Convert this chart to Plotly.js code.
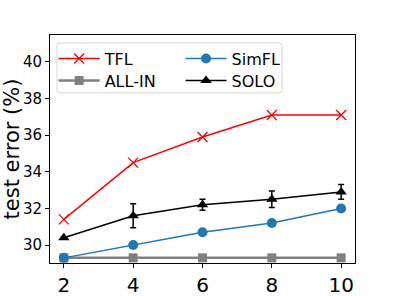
<!DOCTYPE html>
<html><head><meta charset="utf-8">
<script src="https://cdn.plot.ly/plotly-3.0.1.min.js"></script>
<style>body{margin:0;padding:0;background:#fff}#chart{width:394px;height:296px}</style>
</head><body><div id="chart"></div>
<script>
const xVals = [2, 4, 6, 8, 10];
const tfl = [31.4, 34.5, 35.9, 37.1, 37.1];
const allIn = [29.3, 29.3, 29.3, 29.3, 29.3];
const simfl = [29.3, 30.0, 30.7, 31.2, 32.0];
const simflErr = [0.05, 0.05, 0.05, 0.05, 0.05];
const solo = [30.4, 31.6, 32.2, 32.5, 32.9];
const soloErr = [0.05, 0.65, 0.3, 0.45, 0.4];
const xTicks = [2, 4, 6, 8, 10];
const yTicks = [30, 32, 34, 36, 38, 40];

const traces = [
  {x: xVals, y: tfl, name: 'TFL', mode: 'lines+markers', legend: 'legend',
   line: {color: '#ff0000', width: 1.5},
   marker: {symbol: 'x-thin', size: 10, line: {color: '#ff0000', width: 1.3}, color: '#ff0000'}},
  {x: xVals, y: allIn, name: 'ALL-IN', mode: 'lines+markers', legend: 'legend3',
   line: {color: '#808080', width: 2.5},
   marker: {symbol: 'square', size: 9, color: '#808080'}},
  {x: xVals, y: simfl, name: 'SimFL', mode: 'lines+markers', legend: 'legend2',
   error_y: {type: 'data', array: simflErr, color: '#1f77b4', thickness: 1.5, width: 3},
   line: {color: '#1f77b4', width: 1.5},
   marker: {symbol: 'circle', size: 10, color: '#1f77b4'}},
  {x: xVals, y: solo, name: 'SOLO', mode: 'lines+markers', legend: 'legend4',
   error_y: {type: 'data', array: soloErr, color: '#000000', thickness: 1.5, width: 3},
   line: {color: '#000000', width: 1.5},
   marker: {symbol: 'triangle-up', size: 10, color: '#000000'}}
];

// legend frame (paper coords of the plot area)
const bx0 = 0.023, bx1 = 0.761, by0 = 0.746, by1 = 0.965, rx = 0.01, ry = 0.013;
const framePath = `M${bx0+rx},${by0} L${bx1-rx},${by0} Q${bx1},${by0} ${bx1},${by0+ry} L${bx1},${by1-ry} Q${bx1},${by1} ${bx1-rx},${by1} L${bx0+rx},${by1} Q${bx0},${by1} ${bx0},${by1-ry} L${bx0},${by0+ry} Q${bx0},${by0} ${bx0+rx},${by0} Z`;

const legendCommon = {orientation: 'v', xanchor: 'left', yanchor: 'top',
  font: {size: 16, family: 'DejaVu Sans'}, bgcolor: 'rgba(0,0,0,0)', borderwidth: 0,
  itemwidth: 41, tracegroupgap: 0, traceorder: 'normal'};
const col1 = 0.012, col2 = 0.428, row1 = 0.971, row2 = 0.8745;

const layout = {
  width: 394, height: 296,
  margin: {l: 50, r: 39, t: 35, b: 33},
  paper_bgcolor: '#ffffff', plot_bgcolor: '#ffffff',
  font: {family: 'DejaVu Sans', color: '#000000'},
  showlegend: true,
  legend: Object.assign({}, legendCommon, {x: col1, y: row1}),
  legend2: Object.assign({}, legendCommon, {x: col2, y: row1}),
  legend3: Object.assign({}, legendCommon, {x: col1, y: row2}),
  legend4: Object.assign({}, legendCommon, {x: col2, y: row2}),
  shapes: [{type: 'path', xref: 'paper', yref: 'paper', path: framePath,
    fillcolor: 'rgba(255,255,255,0.8)', line: {color: '#d6d6d6', width: 1}, layer: 'above'}],
  xaxis: {range: [1.6, 10.4], tickvals: xTicks, ticktext: xTicks.map(String),
    showgrid: false, zeroline: false, showline: true, mirror: true,
    linecolor: '#000000', linewidth: 1, ticks: 'outside', ticklen: 4, tickcolor: '#000',
    tickfont: {size: 20, family: 'DejaVu Sans'}},
  yaxis: {range: [29.02, 41.47], tickvals: yTicks, ticktext: yTicks.map(String),
    showgrid: false, zeroline: false, showline: true, mirror: true,
    linecolor: '#000000', linewidth: 1, ticks: 'outside', ticklen: 4, tickcolor: '#000',
    tickfont: {size: 15, family: 'DejaVu Sans'},
    title: {text: 'test error (%)', font: {size: 21, family: 'DejaVu Sans'}, standoff: 6}}
};
Plotly.newPlot('chart', traces, layout, {displayModeBar: false, staticPlot: true});
</script></body></html>
